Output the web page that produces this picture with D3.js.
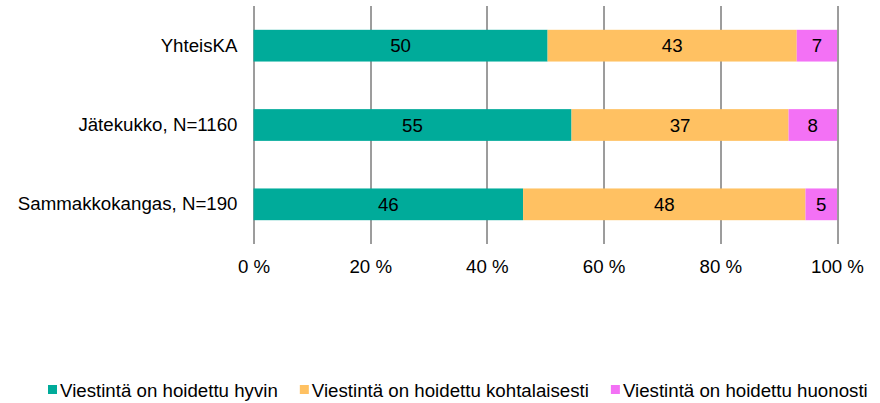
<!DOCTYPE html>
<html>
<head>
<meta charset="utf-8">
<script src="https://cdn.jsdelivr.net/npm/d3@7"></script>
<style>
  body { margin: 0; background: #fff; }
  text { font-family: "Liberation Sans", Arial, sans-serif; }
</style>
</head>
<body>
<div id="chart"></div>
<script>
// Data
const categories = ["YhteisKA", "Jätekukko, N=1160", "Sammakkokangas, N=190"]
const seriesNames = ["Viestintä on hoidettu hyvin", "Viestintä on hoidettu kohtalaisesti", "Viestintä on hoidettu huonosti"]
const good = [50.4, 54.5, 46.2]
const moderate = [42.7, 37.2, 48.4]
const poor = [6.9, 8.3, 5.4]
const tickValues = [0, 20, 40, 60, 80, 100]
const colors = ["#00ab9a", "#ffc162", "#f371f5"]

const fontSize = "18.7px"
const width = 880
const height = 403
const margin = { top: 6, right: 43, bottom: 159, left: 253.5 }
const graphWidth = width - margin.left - margin.right
const graphHeight = height - margin.top - margin.bottom

const svg = d3.select("#chart")
    .append("svg")
    .attr("width", width)
    .attr("height", height)

const g = svg.append("g")
    .attr("transform", `translate(${margin.left}, ${margin.top})`)

const x = d3.scaleLinear()
    .domain([0, 100])
    .range([0, graphWidth])

const y = d3.scaleBand()
    .domain(categories)
    .range([0, graphHeight])
    .paddingInner(0.6)
    .paddingOuter(0.3)

// gridlines
g.selectAll(".grid")
    .data(tickValues)
    .enter()
    .append("line")
    .attr("x1", d => Math.round(x(d)) + 0.5)
    .attr("x2", d => Math.round(x(d)) + 0.5)
    .attr("y1", 0)
    .attr("y2", graphHeight)
    .attr("stroke", "#3a3a3a")
    .attr("stroke-width", 1)

// x axis labels
const xAxis = d3.axisBottom(x)
    .tickValues(tickValues)
    .tickSize(0)
    .tickPadding(16)
    .tickFormat(d => d + " %")
const xAxisGroup = g.append("g")
    .attr("transform", `translate(0, ${graphHeight})`)
    .call(xAxis)
xAxisGroup.select(".domain").remove()
xAxisGroup.selectAll("text")
    .style("font-size", fontSize)
    .style("font-family", "Liberation Sans, Arial, sans-serif")
    .attr("fill", "#000")

// y axis labels
const yAxis = d3.axisLeft(y).tickSize(0).tickPadding(16)
const yAxisGroup = g.append("g").call(yAxis)
yAxisGroup.select(".domain").remove()
yAxisGroup.selectAll("text")
    .style("font-size", fontSize)
    .style("font-family", "Liberation Sans, Arial, sans-serif")
    .attr("fill", "#000")

// stacked bars
const rows = categories.map((c, i) => ({ cat: c, good: good[i], moderate: moderate[i], poor: poor[i] }))
const stack = d3.stack().keys(["good", "moderate", "poor"])
const series = stack(rows)

series.forEach((s, si) => {
    const grp = g.append("g")
    grp.selectAll("rect")
        .data(s)
        .enter()
        .append("rect")
        .attr("x", d => x(d[0]))
        .attr("y", d => y(d.data.cat))
        .attr("width", d => x(d[1]) - x(d[0]))
        .attr("height", y.bandwidth())
        .attr("fill", colors[si])
    grp.selectAll("text")
        .data(s)
        .enter()
        .append("text")
        .attr("x", d => (x(d[0]) + x(d[1])) / 2)
        .attr("y", d => y(d.data.cat) + y.bandwidth() / 2)
        .attr("dy", "0.36em")
        .attr("text-anchor", "middle")
        .style("font-size", fontSize)
        .text(d => Math.round(d[1] - d[0]))
})

// legend
const legend = svg.append("g").attr("transform", "translate(48, 390)")
let lx = 0
seriesNames.forEach((name, i) => {
    const item = legend.append("g").attr("transform", `translate(${lx}, 0)`)
    item.append("rect")
        .attr("x", 0)
        .attr("y", -5)
        .attr("width", 9)
        .attr("height", 9)
        .attr("fill", colors[i])
    const t = item.append("text")
        .attr("x", 12)
        .attr("y", 0)
        .attr("dy", "0.36em")
        .style("font-size", fontSize)
        .text(name)
    lx += 12 + t.node().getComputedTextLength() + 22
})
</script>
</body>
</html>
